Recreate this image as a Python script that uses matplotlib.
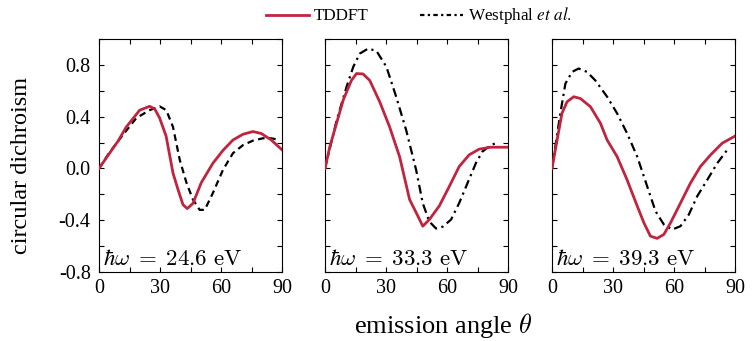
import matplotlib
matplotlib.use("Agg")
import matplotlib.pyplot as plt
from matplotlib.ticker import MultipleLocator
from matplotlib.lines import Line2D
from matplotlib.font_manager import FontProperties

plt.rcParams['font.family'] = ['Liberation Serif', 'DejaVu Serif']
plt.rcParams['mathtext.fontset'] = 'cm'

energies = ["24.6", "33.3", "39.3"]

# Panel 1 (24.6 eV)
td1_theta = [0, 5.2, 9.3, 13.4, 20, 24.9, 27.4, 29.8, 33, 36.4, 38.8, 41.3, 43.4, 46.2, 50.3, 56, 61, 65.9, 70.8, 75.7, 79.8, 84.7, 90]
td1_cd = [0, 0.118, 0.21, 0.32, 0.45, 0.48, 0.46, 0.39, 0.25, -0.036, -0.16, -0.28, -0.31, -0.27, -0.11, 0.04, 0.14, 0.22, 0.264, 0.285, 0.27, 0.22, 0.144]
ex1_theta = [0, 5, 11.8, 18.4, 24.9, 29.8, 33.1, 36.4, 39.7, 43, 46.2, 49.5, 52, 56, 61, 65.9, 70.8, 75.7, 80.6, 84.7, 88.8]
ex1_cd = [0, 0.12, 0.26, 0.39, 0.45, 0.48, 0.45, 0.32, 0.067, -0.11, -0.24, -0.32, -0.32, -0.19, -0.01, 0.118, 0.18, 0.215, 0.233, 0.233, 0.22]

# Panel 2 (33.3 eV)
td2_theta = [0, 2.4, 5.7, 9, 13, 15.5, 18.7, 22, 26.9, 31.8, 36.7, 41.6, 44.8, 48.1, 51.3, 56.2, 61.1, 66, 70.9, 75.8, 81.5, 90]
td2_cd = [0, 0.17, 0.35, 0.53, 0.68, 0.733, 0.73, 0.68, 0.515, 0.32, 0.09, -0.24, -0.34, -0.446, -0.395, -0.29, -0.14, 0.015, 0.105, 0.149, 0.164, 0.164]
ex2_theta = [0, 5.7, 10.6, 13.9, 17.1, 21.2, 25.3, 30.2, 35, 39.9, 44.8, 48.1, 51.3, 54.6, 57.9, 62, 66, 70.1, 74.2, 77.4, 81.5, 84]
ex2_cd = [0, 0.37, 0.63, 0.785, 0.887, 0.926, 0.908, 0.785, 0.554, 0.297, -0.01, -0.27, -0.41, -0.464, -0.45, -0.395, -0.267, -0.113, 0.041, 0.13, 0.18, 0.195]

# Panel 3 (39.3 eV)
td3_theta = [0, 2.5, 4.9, 7.4, 10.7, 14, 18.9, 23.8, 27.1, 32, 36.9, 41.9, 45.2, 48.4, 51.7, 55, 58.3, 63.2, 68.1, 73, 78, 83.7, 90]
td3_cd = [0, 0.22, 0.426, 0.515, 0.554, 0.54, 0.477, 0.35, 0.22, 0.092, -0.087, -0.29, -0.42, -0.523, -0.54, -0.51, -0.42, -0.267, -0.113, 0.015, 0.105, 0.195, 0.25]
ex3_theta = [0, 4.1, 6.6, 9.9, 13.1, 17.2, 21.3, 27.1, 32, 36.9, 41.9, 46.8, 50.9, 55, 59.1, 63.2, 67.3, 71.4, 76.4, 81.3, 86.2]
ex3_cd = [0, 0.426, 0.656, 0.746, 0.772, 0.746, 0.68, 0.554, 0.426, 0.272, 0.092, -0.138, -0.33, -0.433, -0.472, -0.446, -0.356, -0.215, -0.087, 0.041, 0.144]

ytick_vals = [-0.8, -0.4, 0.0, 0.4, 0.8]
ytick_labels = ['-0.8', '-0.4', '0.0', '0.4', '0.8']

panels = [
    (td1_theta, td1_cd, ex1_theta, ex1_cd, (0, (3, 2))),
    (td2_theta, td2_cd, ex2_theta, ex2_cd, (0, (4, 2, 1, 2))),
    (td3_theta, td3_cd, ex3_theta, ex3_cd, (0, (4, 2, 1, 2))),
]

red = '#c0243f'
W, H = 756, 341
fig = plt.figure(figsize=(W / 100, H / 100), dpi=100)
lefts = [99, 325, 552]
pw = 183
top, bottom = 39, 272
axes = []
for i, (l, (tt, tc, et, ec, ls)) in enumerate(zip(lefts, panels)):
    ax = fig.add_axes([l / W, 1 - bottom / H, pw / W, (bottom - top) / H])
    ax.plot(tt, tc, color=red, lw=2.0, zorder=3)
    ax.plot(et, ec, color='black', lw=1.6, linestyle=ls, zorder=2)
    ax.set_xlim(0, 90)
    ax.set_ylim(-0.8, 1.0)
    ax.xaxis.set_major_locator(MultipleLocator(30))
    ax.xaxis.set_minor_locator(MultipleLocator(15))
    ax.set_yticks(ytick_vals)
    ax.yaxis.set_minor_locator(MultipleLocator(0.2))
    ax.tick_params(which='both', direction='in', top=True, right=True, labelsize=14.5,
                   length=3.6, width=0.8)
    ax.tick_params(axis='y', pad=6)
    ax.tick_params(axis='x', pad=5)
    if i == 0:
        ax.set_yticklabels(ytick_labels)
    else:
        ax.set_yticklabels([])
    ax.text(0.02, 0.028, r'$\hbar\omega\;=\;%s\ \mathrm{eV}$' % energies[i], transform=ax.transAxes,
            fontsize=16.5, ha='left', va='baseline')
    axes.append(ax)

fig.text(22 / W, 1 - 165 / H, 'circular dichroism', fontsize=17.5, rotation=90,
         ha='center', va='center')
fig.text(443 / W, 1 - 333 / H, r'emission angle $\theta$', fontsize=19, ha='center', va='baseline')

handles = [Line2D([], [], color=red, lw=2.0),
           Line2D([], [], color='black', lw=1.6, linestyle=(0, (2, 1.5, 1, 1.5)))]
fig.legend(handles, ['TDDFT', r'Westphal $\mathit{et\ al.}$'], loc='center',
           bbox_to_anchor=(419 / W, 1 - 16 / H),
           ncol=2, frameon=False,
           prop=FontProperties(family='Liberation Serif', size=12.3, math_fontfamily='stix'),
           handlelength=2.5, columnspacing=3.0, handletextpad=0.3)

fig.savefig('out.png', dpi=100)
